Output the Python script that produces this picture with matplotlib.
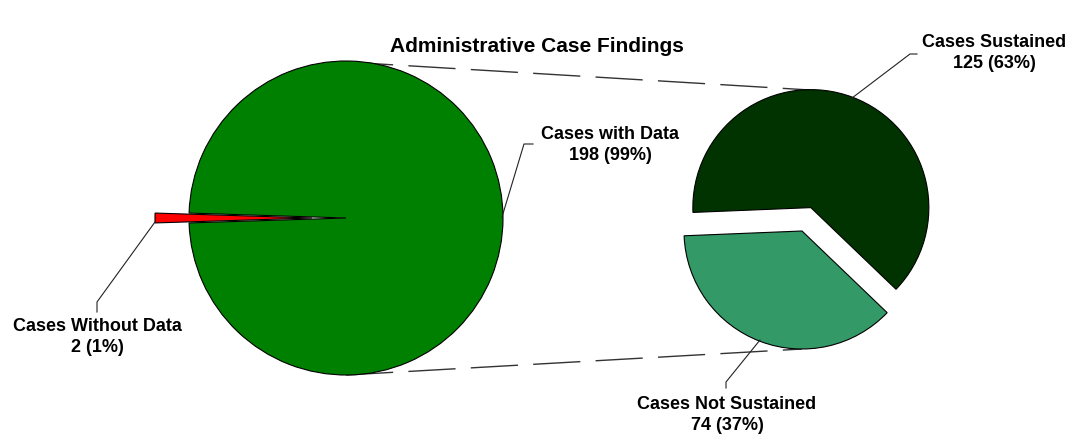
import matplotlib
matplotlib.use("Agg")
import matplotlib.pyplot as plt

plt.rcParams['font.family'] = ['Liberation Sans', 'DejaVu Sans']
plt.rcParams['lines.scale_dashes'] = False

# Main pie: all cases split by data availability
main_labels = ["Cases Without Data", "Cases with Data"]
main_values = [2, 198]
main_pcts = ["1%", "99%"]

# Secondary pie: breakdown of the cases with data
sub_labels = ["Cases Sustained", "Cases Not Sustained"]
sub_values = [125, 74]
sub_pcts = ["63%", "37%"]

title = "Administrative Case Findings"

W, H = 1073, 438
fig = plt.figure(figsize=(W / 100, H / 100), dpi=100)
ax = fig.add_axes([0, 0, 1, 1])

# main pie (pixel-based data coordinates, y up)
main_center = (346, 220)
main_radius = 157
ax.pie(main_values, colors=["#FF0000", "#008000"], startangle=178.2,
       explode=[34, 0], center=main_center, radius=main_radius,
       wedgeprops=dict(edgecolor="black", linewidth=0.8), frame=True)

# secondary pie
sub_center = (802, 207)
sub_radius = 118
ax.pie(sub_values, colors=["#003300", "#339966"], startangle=-43.8,
       explode=[25, 0], center=sub_center, radius=sub_radius,
       wedgeprops=dict(edgecolor="black", linewidth=0.8), frame=True)

# dashed series lines joining the two pies
for (x0, y0), (x1, y1) in [((346, 376), (810, 348)), ((346, 63), (802, 89))]:
    ax.plot([x0, x1], [y0, y1], color="#333333", lw=1.0,
            dashes=(34, 11), zorder=0)

# leader lines
leaders = [
    [(155, 216), (97, 136), (97, 126)],
    [(502, 221), (524, 294), (533, 294)],
    [(852, 340), (910, 384), (917, 384)],
    [(760, 98), (726, 56), (726, 50)],
]
for pts in leaders:
    xs, ys = zip(*pts)
    ax.plot(xs, ys, color="#222222", lw=0.8, zorder=5)

# data labels
label_pos = [(97, 101), (610, 293), (994, 385), (727, 23)]
names = main_labels + sub_labels
vals = main_values + sub_values
pcts = main_pcts + sub_pcts
for (x, y), n, v, p in zip(label_pos, names, vals, pcts):
    ax.text(x, y, f"{n}\n{v} ({p})", ha="center", va="center",
            multialignment="center", fontsize=13, fontweight="bold",
            linespacing=1.3, color="black")

ax.text(537, 391, title, ha="center", va="center", fontsize=15,
        fontweight="bold")

ax.set_xlim(0, W)
ax.set_ylim(0, H)
ax.set_aspect("equal")
ax.axis("off")

fig.savefig("out.png", dpi=100, facecolor="white")
